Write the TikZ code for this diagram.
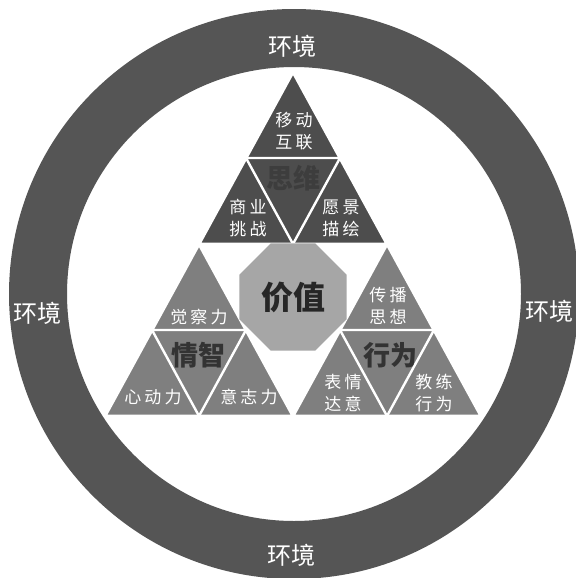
\documentclass[tikz,border=0pt]{standalone}
\usepackage{fontspec}
\setmainfont{Noto Sans CJK SC}
\usepackage{xcolor}
\definecolor{RingGray}{HTML}{555555}
\definecolor{TopGray}{HTML}{4D4D4D}
\definecolor{SideGray}{HTML}{7F7F7F}
\definecolor{OctGray}{HTML}{A6A6A6}
\usetikzlibrary{calc,shapes.geometric}

\begin{document}
\begin{tikzpicture}[x=0.5pt,y=-0.5pt,
    tri/.style={draw=white,line width=1.5pt,line join=round},   % outer small triangles
    inv/.style={draw=white,line width=1.2pt,line join=round},   % inner turned triangles
    lab/.style={font=\fontsize{8.5}{11}\selectfont\addfontfeatures{LetterSpace=18},
                text=white,align=center,inner sep=0pt},
    core/.style={font=\fontsize{13.5}{15}\selectfont\bfseries,text=black!80,inner sep=0pt},
    env/.style={font=\fontsize{12}{14}\selectfont,text=white,inner sep=0pt},
  ]
  \def\Ro{285}   % ring, outer edge
  \def\Ri{227}   % ring, inner edge

  \clip (0,0) rectangle (576,578);
  \fill[white] (0,0) rectangle (576,578);

  % ---------- environment ring ----------
  \fill[RingGray,even odd rule] (294,294) circle[radius=\Ro] circle[radius=\Ri];
  \node[env] (envT) at (292,46)  {环境};
  \node[env] (envL) at (37,313)  {环境};
  \node[env] (envR) at (549,311) {环境};
  \node[env] (envB) at (291,555) {环境};

  % ---------- corners of the big triangle ----------
  \coordinate (T)  at (293,72);
  \coordinate (BL) at (105,416);
  \coordinate (BR) at (481,416);
  \coordinate (ML) at ($(T)!0.5!(BL)$);
  \coordinate (MR) at ($(T)!0.5!(BR)$);
  \coordinate (MB) at ($(BL)!0.5!(BR)$);

  % ---------- three small triangles ----------
  \filldraw[tri,fill=TopGray]  (T) -- (ML) -- (MR) -- cycle;
  \filldraw[tri,fill=SideGray] (ML) -- (BL) -- (MB) -- cycle;
  \filldraw[tri,fill=SideGray] (MR) -- (MB) -- (BR) -- cycle;

  % inner turned triangles
  \draw[inv] ($(T)!0.5!(ML)$) -- ($(T)!0.5!(MR)$) -- ($(ML)!0.5!(MR)$) -- cycle;
  \draw[inv] ($(ML)!0.5!(BL)$) -- ($(ML)!0.5!(MB)$) -- ($(BL)!0.5!(MB)$) -- cycle;
  \draw[inv] ($(MR)!0.5!(MB)$) -- ($(MR)!0.5!(BR)$) -- ($(MB)!0.5!(BR)$) -- cycle;

  % ---------- top: thinking ----------
  \node[lab] (mobile) at (294,131) {移动\\互联};
  \node[core,text=black!76] (think) at (293,178) {思维};
  \node[lab] (biz)    at (248,218) {商业\\挑战};
  \node[lab] (vision) at (341,218) {愿景\\描绘};

  % ---------- left: emotion ----------
  \node[lab] (aware) at (199,317) {觉察力};
  \node[core] (emo)  at (198,355) {情智};
  \node[lab] (heart) at (153,397) {心动力};
  \node[lab] (will)  at (249,397) {意志力};

  % ---------- right: action ----------
  \node[lab] (spread)  at (388,306) {传播\\思想};
  \node[core] (act)    at (390,355) {行为};
  \node[lab] (express) at (343,393) {表情\\达意};
  \node[lab] (coach)   at (434,393) {教练\\行为};

  % ---------- value in the centre ----------
  \node[regular polygon,regular polygon sides=8,minimum size=58pt,inner sep=0pt,
        fill=OctGray,font=\fontsize{16}{18}\selectfont\bfseries,text=black!85]
        (value) at (293,297) {价值};
\end{tikzpicture}
\end{document}
